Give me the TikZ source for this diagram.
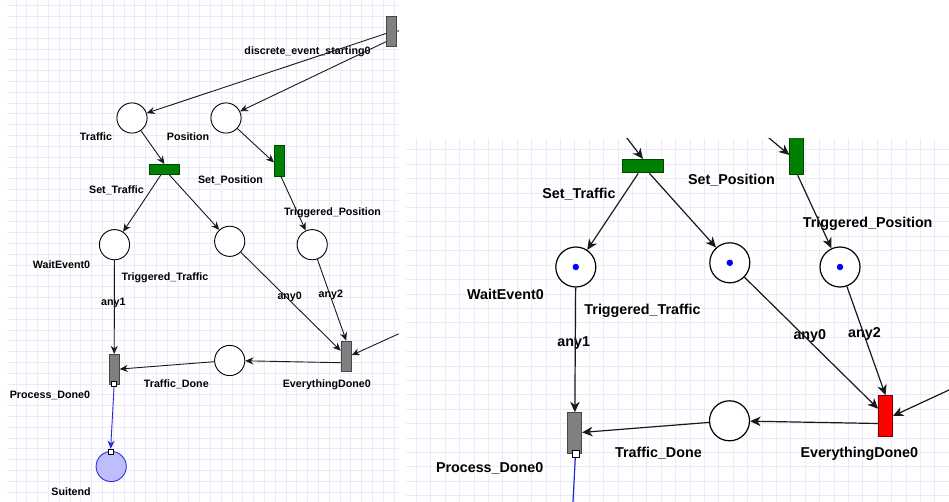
\documentclass[tikz,border=0pt]{standalone}
\usepackage{fontspec}
\setmainfont{Liberation Sans}
\usetikzlibrary{arrows.meta,calc}
\definecolor{gridc}{RGB}{235,233,251}
\definecolor{trgray}{RGB}{128,128,128}
\definecolor{trgrayline}{RGB}{70,70,70}
\definecolor{trgreen}{RGB}{0,128,0}
\definecolor{trgreenline}{RGB}{0,70,0}
\definecolor{trred}{RGB}{255,0,0}
\definecolor{trredline}{RGB}{120,0,0}
\definecolor{endfill}{RGB}{190,190,255}
\definecolor{endline}{RGB}{50,50,210}
\definecolor{arcblue}{RGB}{40,40,220}
\definecolor{arcblack}{RGB}{25,25,25}

\begin{document}
\begin{tikzpicture}[x=1pt,y=-1pt,
  labL/.style={font=\bfseries\fontsize{10.7}{12}\selectfont, inner sep=0pt, text height=7.7pt, text depth=0pt},
  labR/.style={font=\bfseries\fontsize{14.3}{16}\selectfont, inner sep=0pt, text height=10.3pt, text depth=0pt},
  placeL/.style={circle, draw=black, fill=white, line width=0.9pt, minimum size=30.2pt, inner sep=0pt},
  placeR/.style={circle, draw=black, fill=white, line width=1.2pt, minimum size=40pt, inner sep=0pt},
  trLv/.style={rectangle, inner sep=0pt, line width=0.8pt, minimum width=10.2pt, minimum height=30.4pt},
  trLh/.style={rectangle, inner sep=0pt, line width=0.8pt, minimum width=30.4pt, minimum height=10.2pt},
  trRv/.style={rectangle, inner sep=0pt, line width=1pt, minimum width=13.7pt, minimum height=40.5pt},
  trRh/.style={rectangle, inner sep=0pt, line width=1pt, minimum width=40.5pt, minimum height=13.5pt},
  grayT/.style={fill=trgray, draw=trgrayline},
  greenT/.style={fill=trgreen, draw=trgreenline},
  redT/.style={fill=trred, draw=trredline},
  token/.style={circle, fill=blue, inner sep=0pt, minimum size=6.5pt},
  pinL/.style={rectangle, draw=black, fill=white, line width=0.6pt, minimum size=5pt, inner sep=0pt},
  pinR/.style={rectangle, draw=black, fill=white, line width=0.8pt, minimum size=7pt, inner sep=0pt},
  arcL/.style={draw=arcblack, line width=0.9pt, -{Stealth[length=8pt,width=7pt,inset=2.5pt]}},
  arcR/.style={draw=arcblack, line width=1.2pt, -{Stealth[length=10.5pt,width=9.5pt,inset=3.2pt]}},
  blueL/.style={draw=arcblue, line width=0.9pt, -{Stealth[length=8pt,width=7pt,inset=2.5pt]}},
  blueR/.style={draw=arcblue, line width=1.2pt},
  gridline/.style={draw=gridc, line width=1pt}
]
\useasboundingbox (0,0) rectangle (949,502);
\fill[white] (0,0) rectangle (949,502);

% ---------------- overview net ----------------
\begin{scope}
  \clip (7,0) rectangle (398.5,502);
  \foreach \k in {0,...,35} \draw[gridline] ({16+10.8*\k},0) -- ({16+10.8*\k},502);
  \foreach \k in {0,...,46} \draw[gridline] (7,{6+10.8*\k}) -- (398.5,{6+10.8*\k});

  % transitions and places
  \node[trLv, grayT] (lDisc) at (391.5,31.7) {};
  \node[placeL] (lTraffic) at (132,118) {};
  \node[placeL] (lPosition) at (226,118) {};
  \node[trLh, greenT] (lSetTraffic) at (164.5,169.5) {};
  \node[trLv, greenT] (lSetPos) at (279.5,161) {};
  \node[placeL] (lWait) at (114.5,244.7) {};
  \node[placeL] (lTrigTraffic) at (229.7,241.3) {};
  \node[placeL] (lTrigPos) at (312.2,244.7) {};
  \node[trLv, grayT] (lProcDone) at (114.2,369.5) {};
  \node[placeL] (lTrafficDone) at (229.7,360.5) {};
  \node[trLv, grayT] (lEvery) at (346.2,356.2) {};
  \node[placeL, fill=endfill, draw=endline] (lSuitend) at (111.2,466.5) {};
  \node[pinL] (lPdPin) at (114.2,384.2) {};
  \node[pinL] (lSuPin) at (110.5,451.5) {};
  \coordinate (lDiscIn) at (416,22);
  \coordinate (lEvIn) at (399,333.7);

  % labels
  \node[labL] (lDiscLab) at (307.5,51) {discrete\_event\_starting0};
  \node[labL] (lTrafficLab) at (96,137) {Traffic};
  \node[labL] (lPositionLab) at (188,137) {Position};
  \node[labL] (lSetTrafficLab) at (116.5,190) {Set\_Traffic};
  \node[labL] (lSetPosLab) at (230.5,180) {Set\_Position};
  \node[labL] (lTrigPosLab) at (332.5,212) {Triggered\_Position};
  \node[labL] (lWaitLab) at (61.5,265) {WaitEvent0};
  \node[labL] (lTrigTrafficLab) at (165,276.7) {Triggered\_Traffic};
  \node[labL] (lAny1) at (113.3,301.7) {any1};
  \node[labL] (lAny0) at (289.7,296) {any0};
  \node[labL] (lAny2) at (330.8,294) {any2};
  \node[labL] (lTrafficDoneLab) at (176.3,384) {Traffic\_Done};
  \node[labL] (lEveryLab) at (326.8,384) {EverythingDone0};
  \node[labL] (lProcDoneLab) at (50,395) {Process\_Done0};
  \node[labL] (lSuitendLab) at (71,492) {Suitend};

  % arcs
  \draw[arcL] (lDiscIn) -- (lDisc.east);
  \draw[arcL] (lDisc) -- (lTraffic);
  \draw[arcL] ($(lDisc.west)+(0,10)$) -- (lPosition);
  \draw[arcL] (lTraffic) -- (lSetTraffic.north);
  \draw[arcL] (lPosition) -- ($(lSetPos.west)+(0,1.5)$);
  \draw[arcL] (lSetTraffic) -- (lWait);
  \draw[arcL] (lSetTraffic) -- (lTrigTraffic);
  \draw[arcL] ($(lSetPos.south)+(1.5,0)$) -- (lTrigPos);
  \draw[arcL] (lWait) -- (lProcDone);
  \draw[arcL] (lTrigTraffic) -- (lEvery);
  \draw[arcL] (lTrigPos) -- (lEvery.north);
  \draw[arcL] ($(lEvery.west)+(0,6.5)$) -- (lTrafficDone);
  \draw[arcL] (lTrafficDone) -- (lProcDone);
  \draw[arcL] (lEvIn) -- ($(lEvery.east)+(0,-1)$);
  \draw[blueL] (lPdPin) -- (lSuPin);
\end{scope}

% ---------------- detail net ----------------
\begin{scope}
  \clip (406,139) rectangle (949,502);
  \foreach \k in {0,...,37} \draw[gridline] ({416.5+14.4*\k},139) -- ({416.5+14.4*\k},502);
  \foreach \k in {0,...,24} \draw[gridline] (406,{150+14.4*\k}) -- (949,{150+14.4*\k});

  % transitions and places
  \node[trRh, greenT] (rSetTraffic) at (643,166.2) {};
  \node[trRv, greenT] (rSetPos) at (796.7,154.5) {};
  \node[placeR] (rWait) at (575.8,267) {};
  \node[placeR] (rTrigTraffic) at (729.8,262.8) {};
  \node[placeR] (rTrigPos) at (840,267) {};
  \node[token] (rWaitTok) at (rWait) {};
  \node[token] (rTrigTrafficTok) at (rTrigTraffic) {};
  \node[token] (rTrigPosTok) at (rTrigPos) {};
  \node[trRv, grayT] (rProcDone) at (574.7,433) {};
  \node[pinR] (rPdPin) at (575.5,454) {};
  \node[placeR] (rTrafficDone) at (729.5,420.8) {};
  \node[trRv, redT] (rEvery) at (885.5,416) {};
  \coordinate (rSTin) at (620,129);
  \coordinate (rSPin) at (757,128);
  \coordinate (rEvIn) at (952,388.6);
  \coordinate (rSuitDown) at (572,520);

  % labels
  \node[labR] (rSetTrafficLab) at (579,193) {Set\_Traffic};
  \node[labR] (rSetPosLab) at (731.5,179.3) {Set\_Position};
  \node[labR] (rTrigPosLab) at (867.7,222.3) {Triggered\_Position};
  \node[labR] (rWaitLab) at (505.5,294.3) {WaitEvent0};
  \node[labR] (rTrigTrafficLab) at (642.5,309) {Triggered\_Traffic};
  \node[labR] (rAny1) at (573.7,341.7) {any1};
  \node[labR] (rAny0) at (809.8,334) {any0};
  \node[labR] (rAny2) at (864.5,332.3) {any2};
  \node[labR] (rTrafficDoneLab) at (658.4,452.7) {Traffic\_Done};
  \node[labR] (rEveryLab) at (859.3,452.7) {EverythingDone0};
  \node[labR] (rProcDoneLab) at (489.7,467.7) {Process\_Done0};

  % arcs
  \draw[arcR] (rSTin) -- (rSetTraffic.north);
  \draw[arcR] (rSPin) -- ($(rSetPos.west)+(0,0.5)$);
  \draw[arcR] (rSetTraffic) -- (rWait);
  \draw[arcR] (rSetTraffic) -- (rTrigTraffic);
  \draw[arcR] ($(rSetPos.south)+(1,0)$) -- (rTrigPos);
  \draw[arcR] (rWait) -- (rProcDone);
  \draw[arcR] (rTrigTraffic) -- (rEvery);
  \draw[arcR] (rTrigPos) -- (rEvery.north);
  \draw[arcR] ($(rEvery.west)+(0,7.5)$) -- (rTrafficDone);
  \draw[arcR] (rTrafficDone) -- (rProcDone);
  \draw[arcR] (rEvIn) -- (rEvery.east);
  \draw[blueR] (rPdPin) -- (rSuitDown);
\end{scope}
\end{tikzpicture}
\end{document}
